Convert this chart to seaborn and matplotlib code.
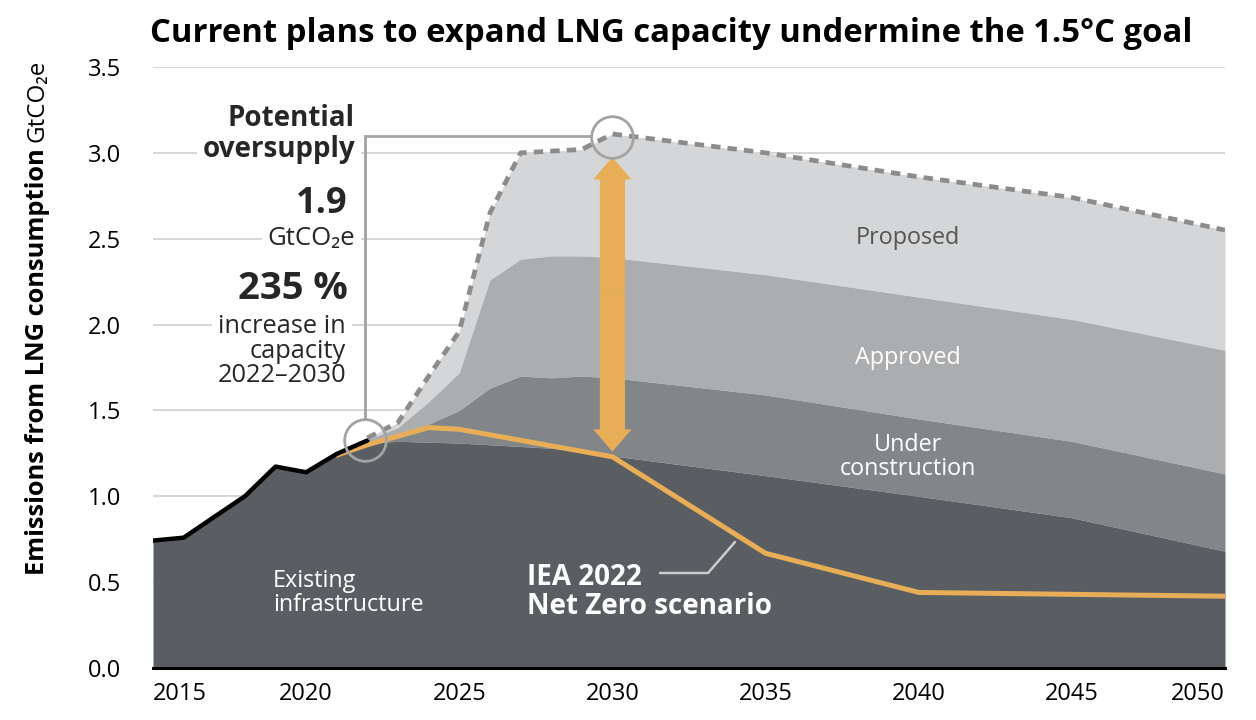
import matplotlib
matplotlib.use("Agg")
import matplotlib.pyplot as plt
import numpy as np
import pandas as pd
import seaborn as sns

# ---------------- data ----------------
hist_years = [2015, 2016, 2017, 2018, 2019, 2020, 2021, 2022]
hist_emissions = [0.742, 0.759, 0.88, 1.0, 1.173, 1.14, 1.247, 1.325]

cap_years = [2022, 2023, 2024, 2025, 2026, 2027, 2028, 2029, 2030, 2035, 2040, 2045, 2050]
existing_top = [1.31, 1.32, 1.315, 1.31, 1.30, 1.29, 1.28, 1.26, 1.235, 1.12, 1.0, 0.875, 0.68]
under_construction_top = [1.32, 1.36, 1.42, 1.50, 1.63, 1.70, 1.69, 1.70, 1.69, 1.59, 1.45, 1.32, 1.13]
approved_top = [1.33, 1.40, 1.55, 1.72, 2.26, 2.38, 2.40, 2.40, 2.39, 2.29, 2.16, 2.03, 1.85]
proposed_top = [1.34, 1.43, 1.70, 1.96, 2.65, 3.00, 3.01, 3.02, 3.11, 3.00, 2.86, 2.74, 2.55]

iea_years = [2021, 2022, 2024, 2025, 2030, 2035, 2040, 2050]
iea_nz = [1.24, 1.30, 1.40, 1.39, 1.23, 0.668, 0.44, 0.418]

x_ticks = [2015, 2020, 2025, 2030, 2035, 2040, 2045, 2050]
y_ticks = [0.0, 0.5, 1.0, 1.5, 2.0, 2.5, 3.0, 3.5]

band_labels = ["Existing\ninfrastructure", "Under\nconstruction", "Approved", "Proposed"]

# ---------------- style ----------------
C_EXIST = "#5a5e62"
C_UNDER = "#828689"
C_APPR = "#abadae"
C_PROP = "#d5d6d7"
C_ORANGE = "#e8ae57"
C_DASH = "#8c8c8c"
C_CIRC = "#a3a3a3"

sns.set_theme(style="white")
FONT = ["Open Sans", "DejaVu Sans"]
plt.rcParams["font.family"] = FONT

W, H = 1256, 720
fig = plt.figure(figsize=(W / 100, H / 100), dpi=100)
ax = fig.add_axes([153 / W, 1 - 668 / H, (1225 - 153) / W, (668 - 67) / H])

# full existing series (history + existing infrastructure)
ex_years = hist_years[:-1] + cap_years
ex_vals = hist_emissions[:-1] + existing_top
df_ex = pd.DataFrame({"year": ex_years, "value": ex_vals})
df_cap = pd.DataFrame({
    "year": cap_years,
    "existing": existing_top,
    "under": under_construction_top,
    "approved": approved_top,
    "proposed": proposed_top,
})

ax.fill_between(df_ex["year"], 0, df_ex["value"], color=C_EXIST, lw=0, zorder=2)
ax.fill_between(df_cap["year"], df_cap["existing"], df_cap["under"], color=C_UNDER, lw=0, zorder=1.9)
ax.fill_between(df_cap["year"], df_cap["under"], df_cap["approved"], color=C_APPR, lw=0, zorder=1.8)
ax.fill_between(df_cap["year"], df_cap["approved"], df_cap["proposed"], color=C_PROP, lw=0, zorder=1.7)

sns.lineplot(x=iea_years, y=iea_nz, ax=ax, color=C_ORANGE, lw=3.6, zorder=3)
sns.lineplot(x=hist_years, y=hist_emissions, ax=ax, color="black", lw=3.2, zorder=4)
ln = sns.lineplot(x=cap_years, y=proposed_top, ax=ax, color=C_DASH, lw=3.4, zorder=4)
ln.lines[-1].set_dashes((2.0, 1.5))

ax.set_xlim(2015, 2050)
ax.set_ylim(0, 3.5)
for s in ["top", "right", "left"]:
    ax.spines[s].set_visible(False)
ax.spines["bottom"].set_color("black")
ax.spines["bottom"].set_linewidth(2.2)
ax.spines["bottom"].set_zorder(6)

ax.set_yticks(y_ticks)
ax.set_yticklabels([f"{v:.1f}" for v in y_ticks])
ax.set_xticks(x_ticks)
ax.set_xticklabels([str(v) for v in x_ticks])
ax.tick_params(axis="y", length=0, pad=23, labelsize=17, labelcolor="black")
ax.tick_params(axis="x", length=0, pad=10, labelsize=17, labelcolor="black")
xt = ax.get_xticklabels()
xt[0].set_horizontalalignment("left")
xt[-1].set_horizontalalignment("right")
ax.yaxis.grid(True, color="#cfcfcf", lw=1.2)
ax.xaxis.grid(False)
ax.set_axisbelow(True)
ax.set_xlabel("")
ax.set_ylabel("")


def px2data(x, y):
    return 2015 + (x - 153) / ((1225 - 153) / 35), (668 - y) / ((668 - 67) / 3.5)


# ---------------- arrow between NZ and proposed in 2030 ----------------
x30 = 2030
ax.arrow(x30, 2.2, 0, 2.975 - 2.2, width=0.82, head_width=1.25, head_length=0.13,
         length_includes_head=True, color=C_ORANGE, lw=0, zorder=5)
ax.arrow(x30, 2.2, 0, 1.26 - 2.2, width=0.82, head_width=1.25, head_length=0.13,
         length_includes_head=True, color=C_ORANGE, lw=0, zorder=5)

# ---------------- bracket and circles ----------------
cx1, cy1 = px2data(365, 440)
cx2, cy2 = px2data(612, 137)
_, ybt = px2data(365, 419)
xbr, ytp = px2data(591, 136)
ax.plot([cx1, cx1, xbr], [ybt, ytp, ytp], color=C_CIRC, lw=2, zorder=7, solid_joinstyle="miter")
ax.plot([cx1, cx2], [cy1, cy2], ls="none", marker="o", ms=30, mfc="none", mec=C_CIRC, mew=2, zorder=7)

# ---------------- left annotation block ----------------
box = dict(facecolor="white", edgecolor="none", pad=4)
tx, ty = px2data(355, 134)
ax.text(tx, ty, "Potential\noversupply", ha="right", va="center", fontsize=20, weight="bold",
        linespacing=1.07, bbox=box, zorder=6)
tx, ty = px2data(348, 204)
ax.text(tx, ty, "1.9", ha="right", va="center", fontsize=26, weight="bold", bbox=box, zorder=6)
tx, ty = px2data(355, 238)
ax.text(tx, ty, "GtCO₂e", ha="right", va="center", fontsize=18.5, bbox=box, zorder=6)
tx, ty = px2data(348, 289)
ax.text(tx, ty, "235 %", ha="right", va="center", fontsize=27.5, weight="bold", bbox=box, zorder=6)
tx, ty = px2data(346, 351)
ax.text(tx, ty, "increase in\ncapacity\n2022–2030", ha="right", va="center", fontsize=18.3,
        linespacing=0.95, bbox=box, zorder=6)

# ---------------- band labels ----------------
tx, ty = px2data(908, 238)
ax.text(tx, ty, band_labels[3], ha="center", va="center", fontsize=16.8, color="#555555", zorder=6)
tx, ty = px2data(908, 358)
ax.text(tx, ty, band_labels[2], ha="center", va="center", fontsize=16.8, color="white", zorder=6)
tx, ty = px2data(908, 457)
ax.text(tx, ty, band_labels[1], ha="center", va="center", fontsize=16.8, color="white",
        linespacing=0.97, zorder=6)
tx, ty = px2data(273, 593)
ax.text(tx, ty, band_labels[0], ha="left", va="center", fontsize=16.8, color="white",
        linespacing=1.02, zorder=6)

tx, ty = px2data(527, 592)
ax.text(tx, ty, "IEA 2022\nNet Zero scenario", ha="left", va="center", fontsize=20,
        weight="bold", color="white", linespacing=1.02, zorder=6)
lx = [px2data(660, 573)[0], px2data(708, 573)[0], px2data(735, 542)[0]]
ly = [px2data(660, 573)[1], px2data(708, 573)[1], px2data(735, 542)[1]]
ax.plot(lx, ly, color="#cccccc", lw=1.8, zorder=6)

# ---------------- title and y label ----------------
title = fig.text(150 / W, 1 - 33 / H, "Current plans to expand LNG capacity undermine the 1.5°C goal",
                 ha="left", va="center", fontsize=21, weight="bold", color="black")
yl1 = fig.text(38 / W, 1 - 575 / H, "Emissions from LNG consumption", rotation=90,
               ha="center", va="bottom", fontsize=15, weight="bold", color="black")

fig.canvas.draw()
r = fig.canvas.get_renderer()
bb = title.get_window_extent(r)
title.set_fontsize(title.get_fontsize() * 1043 / bb.width)
bb = yl1.get_window_extent(r)
yl1.set_fontsize(yl1.get_fontsize() * 427 / bb.height)
fig.canvas.draw()
bb = yl1.get_window_extent(r)
fig.text(bb.x0 + bb.width / 2, bb.y1 + 6, "GtCO₂e", rotation=90, ha="center", va="bottom",
         fontsize=yl1.get_fontsize() * 0.95, color="black", transform=None)

fig.savefig("out.png", dpi=100, facecolor="white")
